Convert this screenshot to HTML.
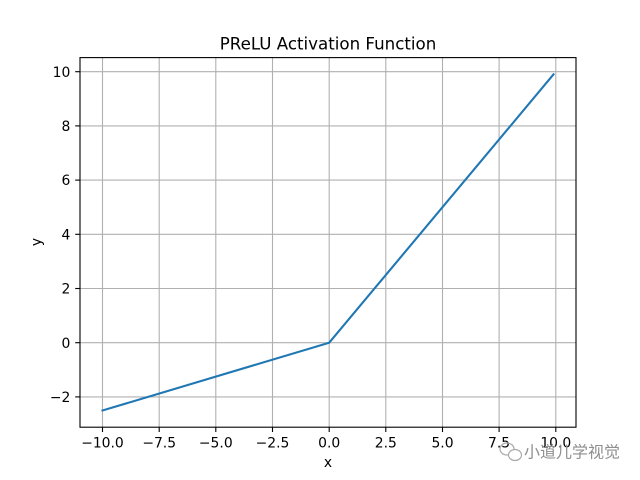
<!DOCTYPE html>
<html><head><meta charset="utf-8"><style>
html,body{margin:0;padding:0;background:#fff;}
svg{display:block;}
text{font-family:"DejaVu Sans","Liberation Sans",sans-serif;fill:#000;}
</style></head><body>
<svg width="640" height="480" viewBox="0 0 640 480" xmlns="http://www.w3.org/2000/svg">
<rect width="640" height="480" fill="#fff"/>
<g stroke="#b0b0b0" stroke-width="1.1">
<line x1="102.5" y1="57.6" x2="102.5" y2="427.2"/>
<line x1="159.2" y1="57.6" x2="159.2" y2="427.2"/>
<line x1="215.8" y1="57.6" x2="215.8" y2="427.2"/>
<line x1="272.5" y1="57.6" x2="272.5" y2="427.2"/>
<line x1="329.2" y1="57.6" x2="329.2" y2="427.2"/>
<line x1="385.8" y1="57.6" x2="385.8" y2="427.2"/>
<line x1="442.5" y1="57.6" x2="442.5" y2="427.2"/>
<line x1="499.1" y1="57.6" x2="499.1" y2="427.2"/>
<line x1="555.8" y1="57.6" x2="555.8" y2="427.2"/>
<line x1="80" y1="71.7" x2="576" y2="71.7"/>
<line x1="80" y1="125.9" x2="576" y2="125.9"/>
<line x1="80" y1="180.1" x2="576" y2="180.1"/>
<line x1="80" y1="234.3" x2="576" y2="234.3"/>
<line x1="80" y1="288.5" x2="576" y2="288.5"/>
<line x1="80" y1="342.7" x2="576" y2="342.7"/>
<line x1="80" y1="396.9" x2="576" y2="396.9"/>
</g>
<polyline points="102.5,410.5 329.2,342.7 553.5,74.4" fill="none" stroke="#1f77b4" stroke-width="2.1" stroke-linecap="square"/>
<rect x="80" y="57.6" width="496" height="369.6" fill="none" stroke="#000" stroke-width="1.1"/>
<g stroke="#000" stroke-width="1.1">
<line x1="102.5" y1="427.2" x2="102.5" y2="432"/>
<line x1="159.2" y1="427.2" x2="159.2" y2="432"/>
<line x1="215.8" y1="427.2" x2="215.8" y2="432"/>
<line x1="272.5" y1="427.2" x2="272.5" y2="432"/>
<line x1="329.2" y1="427.2" x2="329.2" y2="432"/>
<line x1="385.8" y1="427.2" x2="385.8" y2="432"/>
<line x1="442.5" y1="427.2" x2="442.5" y2="432"/>
<line x1="499.1" y1="427.2" x2="499.1" y2="432"/>
<line x1="555.8" y1="427.2" x2="555.8" y2="432"/>
<line x1="75.2" y1="71.7" x2="80" y2="71.7"/>
<line x1="75.2" y1="125.9" x2="80" y2="125.9"/>
<line x1="75.2" y1="180.1" x2="80" y2="180.1"/>
<line x1="75.2" y1="234.3" x2="80" y2="234.3"/>
<line x1="75.2" y1="288.5" x2="80" y2="288.5"/>
<line x1="75.2" y1="342.7" x2="80" y2="342.7"/>
<line x1="75.2" y1="396.9" x2="80" y2="396.9"/>
</g>
<g font-size="13.9" text-anchor="middle">
<text x="102.5" y="447.5">−10.0</text>
<text x="159.2" y="447.5">−7.5</text>
<text x="215.8" y="447.5">−5.0</text>
<text x="272.5" y="447.5">−2.5</text>
<text x="329.2" y="447.5">0.0</text>
<text x="385.8" y="447.5">2.5</text>
<text x="442.5" y="447.5">5.0</text>
<text x="499.1" y="447.5">7.5</text>
<text x="555.8" y="447.5">10.0</text>
</g>
<g font-size="13.9" text-anchor="end">
<text x="70.3" y="76.8">10</text>
<text x="70.3" y="131">8</text>
<text x="70.3" y="185.2">6</text>
<text x="70.3" y="239.4">4</text>
<text x="70.3" y="293.6">2</text>
<text x="70.3" y="347.8">0</text>
<text x="70.3" y="402">−2</text>
</g>
<text x="328" y="467" font-size="13.9" text-anchor="middle">x</text>
<text x="0" y="0" font-size="13.9" text-anchor="middle" transform="translate(41,242) rotate(-90)">y</text>
<text x="328" y="49.5" font-size="16.67" text-anchor="middle">PReLU Activation Function</text>
<g fill="none" stroke="#aaa" stroke-width="1.2">
<ellipse cx="507" cy="449" rx="7" ry="6"/>
<ellipse cx="515" cy="455" rx="6.5" ry="5.5" fill="#fff"/>
</g>
<text x="524" y="457.5" font-size="16" style="font-family:'Liberation Sans','Noto Sans CJK SC',sans-serif;fill:#8f8f8f">小道儿学视觉</text>
</svg>
</body></html>
